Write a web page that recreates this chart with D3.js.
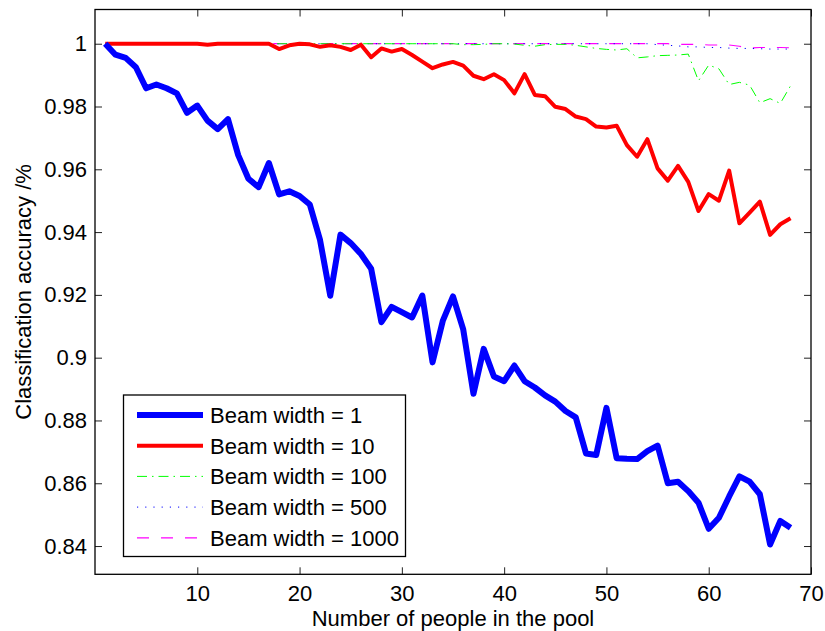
<!DOCTYPE html>
<html>
<head>
<meta charset="utf-8">
<script src="https://cdn.jsdelivr.net/npm/d3@7"></script>
<style>
  body { margin: 0; background: #fff; }
  svg text { font-family: "Liberation Sans", Arial, sans-serif; fill: #000; }
</style>
</head>
<body>
<svg id="drawing_region"></svg>
<script>
// people in the pool
const xValues = d3.range(1, 69);

// accuracy per beam width
const beam1 = [
  1.0, 0.9965, 0.9955, 0.9925, 0.9858, 0.987, 0.9858, 0.9842, 0.978, 0.9803,
  0.9755, 0.9728, 0.976, 0.9645, 0.957, 0.9543, 0.962, 0.952, 0.953, 0.9515,
  0.9488, 0.9375, 0.9197, 0.9392, 0.9365, 0.933, 0.9283, 0.9113, 0.9162, 0.9145,
  0.9128, 0.9198, 0.8985, 0.9117, 0.9195, 0.909, 0.8885, 0.9028, 0.894, 0.8925,
  0.8975, 0.8925, 0.8905, 0.888, 0.886, 0.883, 0.881, 0.8695, 0.869, 0.884,
  0.868, 0.8678, 0.8677, 0.8702, 0.872, 0.86, 0.8605, 0.8575, 0.8538, 0.8455,
  0.849, 0.8558, 0.8622, 0.8605, 0.8565, 0.8405, 0.848, 0.8458
];
const beam10 = [
  1, 1, 1, 1, 1, 1, 1, 1, 1, 1,
  0.9997, 1, 1, 1, 1, 1, 1, 0.9983, 0.9995, 1.0,
  0.9998, 0.999, 0.9995, 0.999, 0.998, 0.9997, 0.9957, 0.9985, 0.9975, 0.9983,
  0.9964, 0.9943, 0.9922, 0.9934, 0.9942, 0.993, 0.9898, 0.9887, 0.9903, 0.9884,
  0.9842, 0.9903, 0.9837, 0.9833, 0.9799, 0.9792, 0.9768, 0.976, 0.9736, 0.9733,
  0.9739, 0.9677, 0.964, 0.9696, 0.9603, 0.9564, 0.9611, 0.956, 0.9467, 0.9521,
  0.95, 0.9596, 0.9428, 0.9462, 0.9497, 0.9391, 0.9425, 0.9444
];
const beam100 = [
  1, 1, 1, 1, 1, 1, 1, 1, 1, 1,
  1, 1, 1, 1, 1, 1, 1, 1, 1, 1,
  1, 1, 1, 1, 1, 1, 1, 1, 1, 1,
  1, 1, 1, 1, 1, 0.9997, 0.9997, 0.9998, 1.0, 1.0,
  0.9999, 0.9995, 0.9992, 0.9997, 0.9998, 0.9998, 0.9995, 0.999, 0.9985, 0.9982,
  0.998, 0.9984, 0.9955, 0.9958, 0.9962, 0.9963, 0.9964, 0.9967, 0.9882, 0.9932,
  0.992, 0.987, 0.9877, 0.9868, 0.9812, 0.9825, 0.981, 0.9866
];
const beam500 = [
  1, 1, 1, 1, 1, 1, 1, 1, 1, 1,
  1, 1, 1, 1, 1, 1, 1, 1, 1, 1,
  1, 1, 1, 1, 1, 1, 1, 1, 1, 1,
  1, 1, 1, 1, 1, 1, 1, 1, 1, 1,
  1, 1, 1, 1, 1, 1, 1, 1, 1, 1,
  1, 1, 1, 1, 0.9997, 0.9995, 0.9993, 0.999, 0.999, 0.9988,
  0.9988, 0.9986, 0.9985, 0.9985, 0.9984, 0.9983, 0.9983, 0.9983
];
const beam1000 = [
  1, 1, 1, 1, 1, 1, 1, 1, 1, 1,
  1, 1, 1, 1, 1, 1, 1, 1, 1, 1,
  1, 1, 1, 1, 1, 1, 1, 1, 1, 1,
  1, 1, 1, 1, 1, 1, 1, 1, 1, 1,
  1, 1, 1, 1, 1, 1, 1, 1, 1, 1,
  1, 1, 1, 1, 1, 1, 0.9998, 0.9998, 0.9998, 0.9996,
  0.9996, 0.9996, 0.9992, 0.9986, 0.9988, 0.9988, 0.9988, 0.9987
];

const seriesLabels = ['Beam width = 1', 'Beam width = 10', 'Beam width = 100',
                      'Beam width = 500', 'Beam width = 1000'];
const xTicks = [10, 20, 30, 40, 50, 60, 70];
const yTicks = [0.84, 0.86, 0.88, 0.9, 0.92, 0.94, 0.96, 0.98, 1];

const series = [
  { label: seriesLabels[0], values: beam1,    color: '#0000ff', width: 6,   dash: null },
  { label: seriesLabels[1], values: beam10,   color: '#ff0000', width: 4,   dash: null },
  { label: seriesLabels[2], values: beam100,  color: '#00ff00', width: 1,   dash: '10,5,1.5,5' },
  { label: seriesLabels[3], values: beam500,  color: '#0000ff', width: 1,   dash: '1.2,7' },
  { label: seriesLabels[4], values: beam1000, color: '#ff00ff', width: 1.2, dash: '12,12' }
];

const W = 825, H = 631;
const plot = { left: 95, right: 811, top: 9.5, bottom: 574.3 };

const svg = d3.select('#drawing_region')
  .attr('width', W)
  .attr('height', H);

const xScale = d3.scaleLinear().domain([0, 70]).range([plot.left, plot.right]);
const yScale = d3.scaleLinear().domain([0.831, 1.0109]).range([plot.bottom, plot.top]);

const fontSize = 22;
const tickLen = 7;

// axes (ticks inside, mirrored on top/right)
const xAxis = svg.append('g')
  .attr('transform', `translate(0, ${plot.bottom})`)
  .call(d3.axisBottom(xScale).tickValues(xTicks).tickSize(-tickLen).tickPadding(11));
const xAxisTop = svg.append('g')
  .attr('transform', `translate(0, ${plot.top})`)
  .call(d3.axisTop(xScale).tickValues(xTicks).tickSize(-tickLen).tickFormat(''));
const yAxis = svg.append('g')
  .attr('transform', `translate(${plot.left}, 0)`)
  .call(d3.axisLeft(yScale).tickValues(yTicks).tickSize(-tickLen).tickPadding(8)
    .tickFormat(d => d3.format('~g')(d)));
const yAxisRight = svg.append('g')
  .attr('transform', `translate(${plot.right}, 0)`)
  .call(d3.axisRight(yScale).tickValues(yTicks).tickSize(-tickLen).tickFormat(''));

[xAxis, xAxisTop, yAxis, yAxisRight].forEach(a => {
  a.select('.domain').remove();
  a.selectAll('.tick line').attr('stroke', '#222').attr('stroke-width', 1);
  a.selectAll('.tick text').style('font-size', fontSize + 'px')
    .style('font-family', '"Liberation Sans", Arial, sans-serif');
});

// lines
const line = d3.line()
  .x((d, i) => xScale(xValues[i]))
  .y(d => yScale(d));

const chart = svg.append('g');
series.slice().reverse().forEach(s => {
  chart.append('path')
    .datum(s.values)
    .attr('d', line)
    .attr('fill', 'none')
    .attr('stroke', s.color)
    .attr('stroke-width', s.width)
    .attr('stroke-linejoin', 'round')
    .attr('stroke-dasharray', s.dash);
});

// frame
svg.append('rect')
  .attr('x', plot.left).attr('y', plot.top)
  .attr('width', plot.right - plot.left)
  .attr('height', plot.bottom - plot.top)
  .attr('fill', 'none')
  .attr('stroke', '#000')
  .attr('stroke-width', 1.3);

// axis titles
svg.append('text')
  .attr('x', (plot.left + plot.right) / 2)
  .attr('y', 626)
  .attr('text-anchor', 'middle')
  .style('font-size', fontSize + 'px')
  .text('Number of people in the pool');

svg.append('text')
  .attr('transform', `translate(31, ${(plot.top + plot.bottom) / 2}) rotate(-90)`)
  .attr('text-anchor', 'middle')
  .style('font-size', fontSize + 'px')
  .text('Classification accuracy /%');

// legend
const legend = svg.append('g');
legend.append('rect')
  .attr('x', 123.5).attr('y', 395)
  .attr('width', 282).attr('height', 161.5)
  .attr('fill', '#fff')
  .attr('stroke', '#000')
  .attr('stroke-width', 1.3);

series.forEach((s, i) => {
  const cy = 415 + i * 30.7;
  legend.append('line')
    .attr('x1', 137).attr('x2', 203)
    .attr('y1', cy).attr('y2', cy)
    .attr('stroke', s.color)
    .attr('stroke-width', s.width)
    .attr('stroke-dasharray', s.dash);
  legend.append('text')
    .attr('x', 210)
    .attr('y', cy)
    .attr('dy', '0.36em')
    .style('font-size', fontSize + 'px')
    .text(s.label);
});
</script>
</body>
</html>
